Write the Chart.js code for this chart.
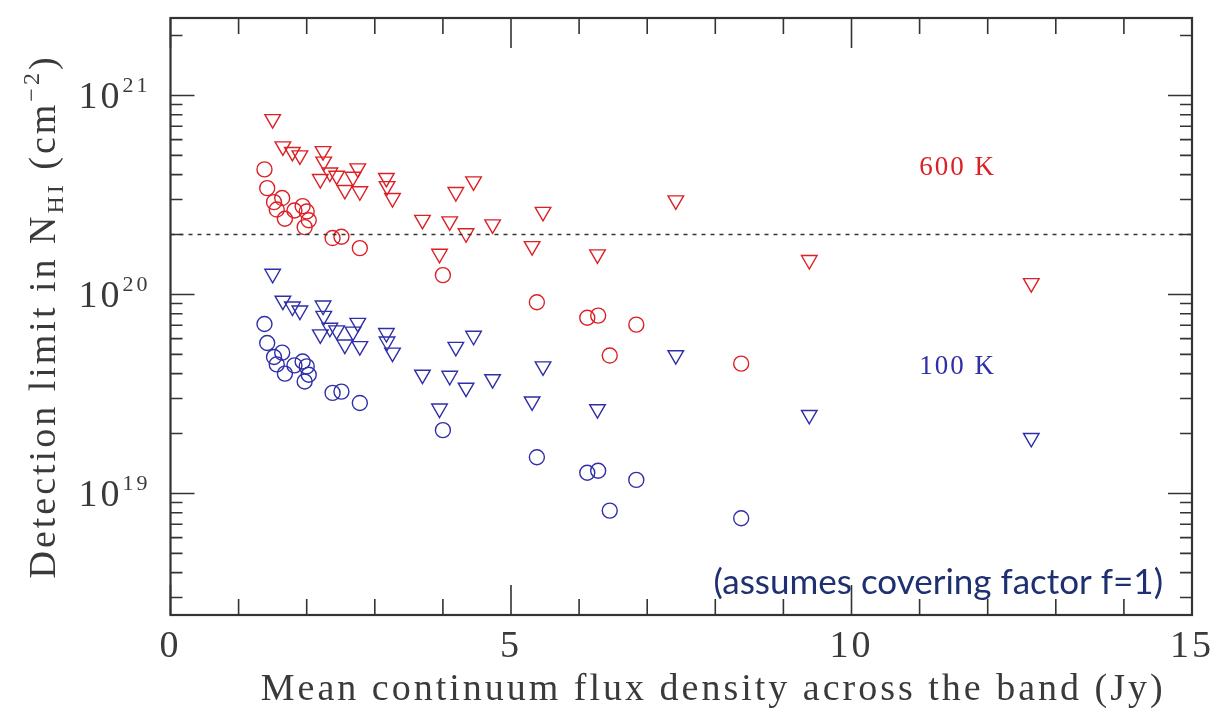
<!DOCTYPE html>
<html lang="en">
<head>
<meta charset="UTF-8">
<title>HI detection limits</title>
<script src="https://cdn.jsdelivr.net/npm/chart.js"></script>
<style>
  body { margin: 0; background: #fff; }
  #wrap { width: 1220px; height: 713px; }
</style>
</head>
<body>
<div id="wrap"><canvas id="nhiChart" width="1220" height="713"></canvas></div>
<script>
// sources with upper limits only (triangles)
const fluxLim = [1.50, 1.65, 1.79, 1.90, 2.24, 2.25, 2.20, 2.34, 2.44, 2.56, 2.75, 2.68, 2.78,
  3.17, 3.18, 3.26, 3.70, 3.95, 4.10, 4.19, 4.34, 4.45, 4.73, 5.31, 5.47, 6.27, 7.42, 9.38, 12.64];
const nhi600Lim = [7.6e20, 5.55e20, 5.2e20, 5.0e20, 5.25e20, 4.65e20, 3.8e20, 4.1e20, 3.95e20, 3.35e20,
  4.3e20, 3.9e20, 3.3e20, 3.85e20, 3.5e20, 3.05e20, 2.37e20, 1.6e20, 2.33e20, 3.27e20, 2.03e20, 3.7e20,
  2.25e20, 1.75e20, 2.6e20, 1.59e20, 2.97e20, 1.49e20, 1.14e20];
const nhi100Lim = [1.27e20, 9.3e19, 8.7e19, 8.3e19, 8.8e19, 7.8e19, 6.3e19, 6.8e19, 6.6e19, 5.6e19,
  7.2e19, 6.5e19, 5.5e19, 6.4e19, 5.8e19, 5.1e19, 3.95e19, 2.67e19, 3.9e19, 5.45e19, 3.4e19, 6.2e19,
  3.75e19, 2.9e19, 4.35e19, 2.65e19, 4.95e19, 2.48e19, 1.9e19];

// the other sources (circles)
const fluxDet = [1.38, 1.42, 1.52, 1.64, 1.56, 1.68, 1.82, 1.94, 2.00, 2.03, 1.97, 2.38, 2.51, 2.78,
  4.00, 5.38, 6.12, 6.28, 6.84, 6.45, 8.38];
const nhi600Det = [4.25e20, 3.42e20, 2.91e20, 3.05e20, 2.67e20, 2.4e20, 2.64e20, 2.78e20, 2.61e20, 2.36e20,
  2.18e20, 1.92e20, 1.95e20, 1.71e20, 1.25e20, 9.14e19, 7.64e19, 7.83e19, 7.05e19, 4.93e19, 4.49e19];
const nhi100Det = [7.1e19, 5.7e19, 4.85e19, 5.1e19, 4.45e19, 4.0e19, 4.4e19, 4.6e19, 4.35e19, 3.95e19,
  3.65e19, 3.2e19, 3.25e19, 2.85e19, 2.08e19, 1.52e19, 1.27e19, 1.3e19, 1.17e19, 8.2e18, 7.5e18];

const refLevel = 2e20;
const xRange = [0, 15];
const yRange = [2.45e18, 2.45e21];
const yDecades = [19, 20, 21];

const RED = '#dc2126';
const BLUE = '#2f2fa8';
const INK = '#3a3a3a';
const PG_FONT = '"Liberation Serif", serif';

function pts(xs, ys) {
  return xs.map((x, i) => ({ x: x, y: ys[i] }));
}

// frame, inward ticks on all four sides, y labels and axis titles
const pgFrame = {
  id: 'pgFrame',
  beforeDraw(chart) {
    chart.ctx.letterSpacing = '3px';
  },
  afterDraw(chart) {
    const { ctx, chartArea: a, scales: { x, y } } = chart;
    ctx.save();
    ctx.strokeStyle = '#333';
    ctx.lineWidth = 1.6;
    ctx.beginPath();
    for (let v = xRange[0]; v <= xRange[1]; v++) {
      const px = x.getPixelForValue(v);
      const len = v % 5 === 0 ? 30 : 16;
      ctx.moveTo(px, a.bottom); ctx.lineTo(px, a.bottom - len);
      ctx.moveTo(px, a.top); ctx.lineTo(px, a.top + len);
    }
    for (let e = 18; e <= 21; e++) {
      for (let m = 1; m <= 9; m++) {
        const v = m * Math.pow(10, e);
        if (v < yRange[0] || v > yRange[1]) continue;
        const py = y.getPixelForValue(v);
        const len = m === 1 ? 24 : 12;
        ctx.moveTo(a.left, py); ctx.lineTo(a.left + len, py);
        ctx.moveTo(a.right, py); ctx.lineTo(a.right - len, py);
      }
    }
    ctx.stroke();
    ctx.lineWidth = 2.2;
    ctx.strokeRect(a.left, a.top, a.width, a.height);

    // decade labels 10^n
    ctx.fillStyle = INK;
    ctx.letterSpacing = '3px';
    ctx.textBaseline = 'alphabetic';
    ctx.textAlign = 'right';
    const labRight = a.left - 20;
    yDecades.forEach(e => {
      const py = y.getPixelForValue(Math.pow(10, e));
      ctx.font = '22px ' + PG_FONT;
      const ew = ctx.measureText(String(e)).width;
      ctx.fillText(String(e), labRight, py - 3);
      ctx.font = '38px ' + PG_FONT;
      ctx.fillText('10', labRight - ew, py + 13);
    });

    // x title
    ctx.textAlign = 'center';
    ctx.textBaseline = 'middle';
    ctx.font = '38px ' + PG_FONT;
    ctx.fillText('Mean continuum flux density across the band (Jy)', (a.left + a.right) / 2 + 32, 690);

    // rotated y title with subscript and superscript
    const parts = [
      { t: 'Detection limit in N', s: 38, dy: 0 },
      { t: 'HI', s: 24, dy: 8 },
      { t: ' (cm', s: 38, dy: 0 },
      { t: '\u22122', s: 24, dy: -16 },
      { t: ')', s: 38, dy: 0 }
    ];
    let total = 0;
    parts.forEach(p => { ctx.font = p.s + 'px ' + PG_FONT; p.w = ctx.measureText(p.t).width; total += p.w; });
    ctx.translate(55, (a.top + a.bottom) / 2);
    ctx.rotate(-Math.PI / 2);
    ctx.textAlign = 'left';
    ctx.textBaseline = 'alphabetic';
    let cx = -total / 2;
    parts.forEach(p => {
      ctx.font = p.s + 'px ' + PG_FONT;
      ctx.fillText(p.t, cx, p.dy);
      cx += p.w;
    });
    ctx.restore();

    // temperature labels and the note
    ctx.save();
    ctx.textAlign = 'center';
    ctx.textBaseline = 'middle';
    ctx.letterSpacing = '2px';
    ctx.font = '27px ' + PG_FONT;
    ctx.fillStyle = RED;
    ctx.fillText('600 K', x.getPixelForValue(11.56), y.getPixelForValue(4.3e20));
    ctx.fillStyle = BLUE;
    ctx.fillText('100 K', x.getPixelForValue(11.56), y.getPixelForValue(4.3e19));
    ctx.letterSpacing = '0px';
    ctx.textAlign = 'right';
    ctx.textBaseline = 'alphabetic';
    ctx.font = '35px Lato, sans-serif';
    ctx.fillStyle = '#1f3070';
    ctx.fillText('(assumes covering factor f=1)', a.right - 29, a.bottom - 21);
    ctx.restore();
  }
};

new Chart(document.getElementById('nhiChart'), {
  type: 'scatter',
  data: {
    datasets: [
      {
        label: 'reference level',
        type: 'line',
        data: [{ x: xRange[0], y: refLevel }, { x: xRange[1], y: refLevel }],
        borderColor: '#333',
        borderWidth: 1.5,
        borderDash: [4, 5],
        pointRadius: 0,
        fill: false
      },
      {
        label: '600 K limits',
        data: pts(fluxLim, nhi600Lim),
        pointStyle: 'triangle', rotation: 180, pointRadius: 9,
        borderColor: RED, backgroundColor: 'transparent', borderWidth: 1.4
      },
      {
        label: '600 K',
        data: pts(fluxDet, nhi600Det),
        pointStyle: 'circle', pointRadius: 7.5,
        borderColor: RED, backgroundColor: 'transparent', borderWidth: 1.4
      },
      {
        label: '100 K limits',
        data: pts(fluxLim, nhi100Lim),
        pointStyle: 'triangle', rotation: 180, pointRadius: 9,
        borderColor: BLUE, backgroundColor: 'transparent', borderWidth: 1.4
      },
      {
        label: '100 K',
        data: pts(fluxDet, nhi100Det),
        pointStyle: 'circle', pointRadius: 7.5,
        borderColor: BLUE, backgroundColor: 'transparent', borderWidth: 1.4
      }
    ]
  },
  options: {
    responsive: false,
    animation: false,
    devicePixelRatio: 1,
    layout: { padding: { left: 0, right: 26, top: 18, bottom: 0 } },
    plugins: { legend: { display: false }, tooltip: { enabled: false } },
    scales: {
      x: {
        type: 'linear',
        min: xRange[0], max: xRange[1],
        grid: { display: false, drawTicks: false },
        border: { display: false },
        ticks: { stepSize: 5, padding: 9, color: INK, font: { family: PG_FONT, size: 38 } },
        afterFit(scale) { scale.height = 98; }
      },
      y: {
        type: 'logarithmic',
        min: yRange[0], max: yRange[1],
        grid: { display: false, drawTicks: false },
        border: { display: false },
        ticks: { display: false },
        afterFit(scale) { scale.width = 170.5; }
      }
    }
  },
  plugins: [pgFrame]
});
</script>
</body>
</html>
